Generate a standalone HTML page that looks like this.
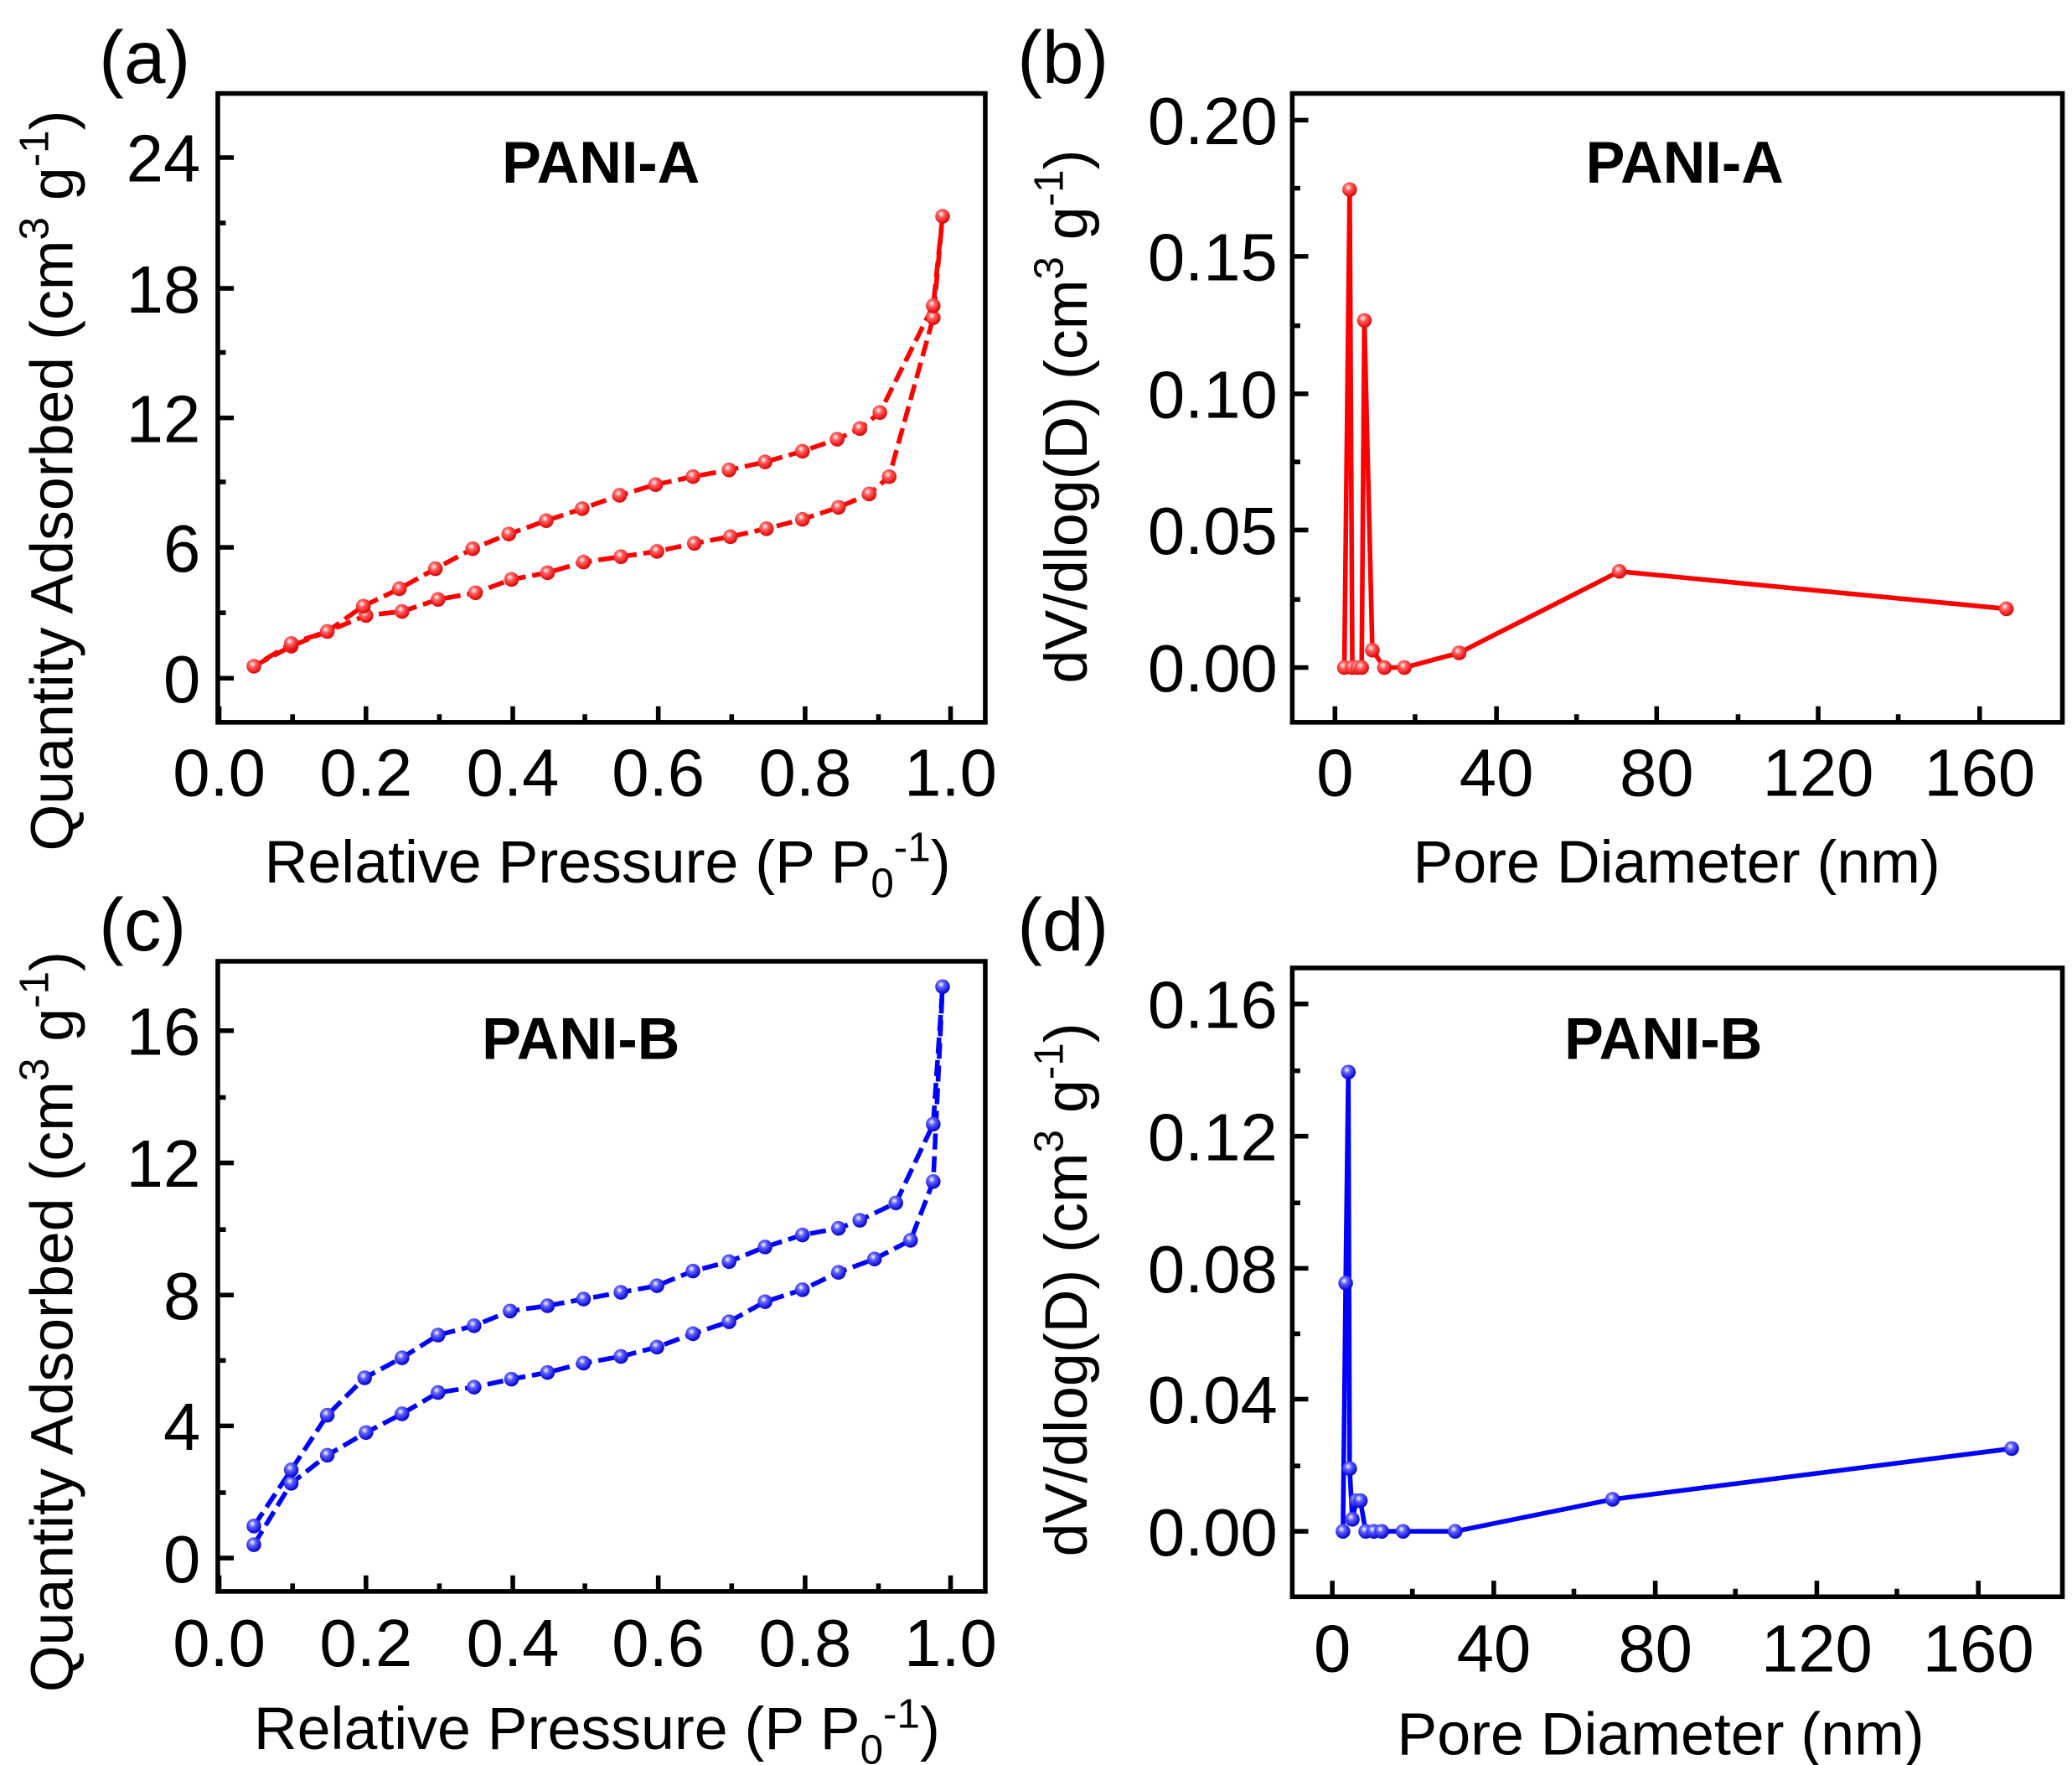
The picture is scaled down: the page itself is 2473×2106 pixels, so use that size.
<!DOCTYPE html>
<html><head><meta charset="utf-8"><style>html,body{margin:0;padding:0;background:#fff}svg{display:block}</style></head>
<body>
<svg xmlns="http://www.w3.org/2000/svg" width="2473" height="2106" viewBox="0 0 1552 1322" font-family="Liberation Sans, Arial, sans-serif">
<defs>
<radialGradient id="rg" cx="0.4" cy="0.35" r="0.65"><stop offset="0" stop-color="#fff"/><stop offset="0.35" stop-color="#ff6060"/><stop offset="1" stop-color="#e00000"/></radialGradient>
<radialGradient id="bg" cx="0.4" cy="0.35" r="0.65"><stop offset="0" stop-color="#fff"/><stop offset="0.35" stop-color="#6060ff"/><stop offset="1" stop-color="#0000d0"/></radialGradient>
</defs>
<rect width="1552" height="1322" fill="#fff"/>
<g stroke="#000" stroke-width="3.5" fill="none">
<rect x="163" y="70" width="575" height="471"/>
<rect x="968" y="70" width="577" height="471"/>
<rect x="163" y="720" width="575" height="472"/>
<rect x="968" y="725" width="577" height="471"/>
<path d="M163 118h12M163 216h12M163 313h12M163 410h12M163 508h12M163 167h6M163 264h6M163 361h6M163 459h6
M164 541v-12M274 541v-12M384 541v-12M493 541v-12M603 541v-12M712 541v-12M219 541v-6M329 541v-6M438 541v-6M548 541v-6M658 541v-6"/>
<path d="M968 90h12M968 192h12M968 295h12M968 397h12M968 500h12M968 141h6M968 244h6M968 346h6M968 449h6
M1000 541v-12M1121 541v-12M1241 541v-12M1362 541v-12M1483 541v-12M1060 541v-6M1181 541v-6M1302 541v-6M1422 541v-6"/>
<path d="M163 772h12M163 871h12M163 970h12M163 1068h12M163 1167h12M163 822h6M163 921h6M163 1019h6M163 1118h6
M164 1192v-12M274 1192v-12M384 1192v-12M493 1192v-12M603 1192v-12M712 1192v-12M219 1192v-6M329 1192v-6M438 1192v-6M548 1192v-6M658 1192v-6"/>
<path d="M968 752h12M968 851h12M968 950h12M968 1048h12M968 1147h12M968 802h6M968 901h6M968 999h6M968 1098h6
M998 1196v-12M1119 1196v-12M1240 1196v-12M1361 1196v-12M1482 1196v-12M1058 1196v-6M1179 1196v-6M1300 1196v-6M1421 1196v-6"/>
</g>
<g font-size="50" text-anchor="end" fill="#000">
<text x="150" y="136">24</text><text x="150" y="234">18</text><text x="150" y="331">12</text><text x="150" y="428">6</text><text x="150" y="526">0</text>
<text x="957" y="108">0.20</text><text x="957" y="210">0.15</text><text x="957" y="313">0.10</text><text x="957" y="415">0.05</text><text x="957" y="518">0.00</text>
<text x="150" y="790">16</text><text x="150" y="889">12</text><text x="150" y="988">8</text><text x="150" y="1086">4</text><text x="150" y="1185">0</text>
<text x="957" y="770">0.16</text><text x="957" y="869">0.12</text><text x="957" y="968">0.08</text><text x="957" y="1066">0.04</text><text x="957" y="1165">0.00</text>
</g>
<g font-size="50" text-anchor="middle" fill="#000">
<text x="164" y="596">0.0</text><text x="274" y="596">0.2</text><text x="384" y="596">0.4</text><text x="493" y="596">0.6</text><text x="603" y="596">0.8</text><text x="712" y="596">1.0</text>
<text x="1000" y="596">0</text><text x="1121" y="596">40</text><text x="1241" y="596">80</text><text x="1362" y="596">120</text><text x="1483" y="596">160</text>
<text x="164" y="1248">0.0</text><text x="274" y="1248">0.2</text><text x="384" y="1248">0.4</text><text x="493" y="1248">0.6</text><text x="603" y="1248">0.8</text><text x="712" y="1248">1.0</text>
<text x="998" y="1252">0</text><text x="1119" y="1252">40</text><text x="1240" y="1252">80</text><text x="1361" y="1252">120</text><text x="1482" y="1252">160</text>
</g>
<g font-size="56" fill="#000">
<text x="74" y="62">(a)</text><text x="762" y="62">(b)</text><text x="74" y="712">(c)</text><text x="762" y="712">(d)</text>
</g>
<g font-size="45" fill="#000" text-anchor="middle">
<text x="455" y="661">Relative Pressure (P P<tspan font-size="31" dy="11">0</tspan><tspan font-size="31" dy="-27">-1</tspan><tspan dy="16">)</tspan></text>
<text x="1256" y="661">Pore Diameter (nm)</text>
<text x="447" y="1310">Relative Pressure (P P<tspan font-size="31" dy="11">0</tspan><tspan font-size="31" dy="-27">-1</tspan><tspan dy="16">)</tspan></text>
<text x="1244" y="1314">Pore Diameter (nm)</text>
<text transform="translate(54,360) rotate(-90)">Quantity Adsorbed (cm<tspan font-size="31" dy="-18">3</tspan><tspan dy="18"> g</tspan><tspan font-size="31" dy="-18">-1</tspan><tspan dy="18">)</tspan></text>
<text transform="translate(54,990) rotate(-90)">Quantity Adsorbed (cm<tspan font-size="31" dy="-18">3</tspan><tspan dy="18"> g</tspan><tspan font-size="31" dy="-18">-1</tspan><tspan dy="18">)</tspan></text>
<text transform="translate(814,312) rotate(-90)">dV/dlog(D)  (cm<tspan font-size="31" dy="-18">3</tspan><tspan dy="18"> g</tspan><tspan font-size="31" dy="-18">-1</tspan><tspan dy="18">)</tspan></text>
<text transform="translate(814,966) rotate(-90)">dV/dlog(D)  (cm<tspan font-size="31" dy="-18">3</tspan><tspan dy="18"> g</tspan><tspan font-size="31" dy="-18">-1</tspan><tspan dy="18">)</tspan></text>
</g>
<g font-size="44" font-weight="bold" text-anchor="middle" fill="#000">
<text x="450" y="137">PANI-A</text><text x="1262" y="137">PANI-A</text>
<text x="435" y="793">PANI-B</text><text x="1246" y="793">PANI-B</text>
</g>
<g fill="none" stroke-width="3.5" stroke-linejoin="round">
<polyline stroke="#f00" stroke-dasharray="12 5" points="190,499 218,484 245,473 274,461 301,458 328,449 356,444 383,434 410,429 437,421 465,417 492,413 520,407 547,402 574,396 601,389 628,380 651,370 666,357 699,238 706,162"/>
<polyline stroke="#f00" stroke-dasharray="12 5" points="706,162 699,229 659,309 644,321 627,329 601,338 573,346 546,352 519,357 491,363 464,371 436,381 409,390 381,400 354,411 326,426 299,441 272,454 245,473 218,482 190,499"/>
<polyline stroke="#f00" points="1007,500 1011,142 1013,500 1017,500 1020,500 1022,240 1028,487 1037,500 1052,500 1093,489 1213,428 1503,456"/>
<polyline stroke="#00f" stroke-dasharray="12 5" points="190,1157 218,1111 245,1090 274,1073 301,1059 328,1043 355,1039 383,1033 410,1028 437,1021 465,1016 492,1009 519,999 546,990 573,975 601,966 628,953 655,943 682,929 699,885 706,739"/>
<polyline stroke="#00f" stroke-dasharray="12 5" points="190,1143 218,1101 245,1060 273,1032 301,1017 328,1000 355,993 382,982 410,978 437,973 465,968 492,963 519,952 546,945 573,934 601,925 628,920 644,914 671,901 699,842 706,739"/>
<polyline stroke="#00f" points="1006,1147 1008,961 1010,803 1011,1100 1013,1138 1016,1124 1019,1124 1023,1147 1029,1147 1035,1147 1051,1147 1090,1147 1208,1123 1507,1085"/>
</g>
<g fill="url(#rg)">
<circle cx="190" cy="499" r="5.5"/><circle cx="218" cy="484" r="5.5"/><circle cx="245" cy="473" r="5.5"/><circle cx="274" cy="461" r="5.5"/><circle cx="301" cy="458" r="5.5"/><circle cx="328" cy="449" r="5.5"/><circle cx="356" cy="444" r="5.5"/><circle cx="383" cy="434" r="5.5"/><circle cx="410" cy="429" r="5.5"/><circle cx="437" cy="421" r="5.5"/><circle cx="465" cy="417" r="5.5"/><circle cx="492" cy="413" r="5.5"/><circle cx="520" cy="407" r="5.5"/><circle cx="547" cy="402" r="5.5"/><circle cx="574" cy="396" r="5.5"/><circle cx="601" cy="389" r="5.5"/><circle cx="628" cy="380" r="5.5"/><circle cx="651" cy="370" r="5.5"/><circle cx="666" cy="357" r="5.5"/><circle cx="699" cy="238" r="5.5"/><circle cx="706" cy="162" r="5.5"/>
<circle cx="699" cy="229" r="5.5"/><circle cx="659" cy="309" r="5.5"/><circle cx="644" cy="321" r="5.5"/><circle cx="627" cy="329" r="5.5"/><circle cx="601" cy="338" r="5.5"/><circle cx="573" cy="346" r="5.5"/><circle cx="546" cy="352" r="5.5"/><circle cx="519" cy="357" r="5.5"/><circle cx="491" cy="363" r="5.5"/><circle cx="464" cy="371" r="5.5"/><circle cx="436" cy="381" r="5.5"/><circle cx="409" cy="390" r="5.5"/><circle cx="381" cy="400" r="5.5"/><circle cx="354" cy="411" r="5.5"/><circle cx="326" cy="426" r="5.5"/><circle cx="299" cy="441" r="5.5"/><circle cx="272" cy="454" r="5.5"/><circle cx="218" cy="482" r="5.5"/>
<circle cx="1007" cy="500" r="5.5"/><circle cx="1011" cy="142" r="5.5"/><circle cx="1013" cy="500" r="5.5"/><circle cx="1017" cy="500" r="5.5"/><circle cx="1020" cy="500" r="5.5"/><circle cx="1022" cy="240" r="5.5"/><circle cx="1028" cy="487" r="5.5"/><circle cx="1037" cy="500" r="5.5"/><circle cx="1052" cy="500" r="5.5"/><circle cx="1093" cy="489" r="5.5"/><circle cx="1213" cy="428" r="5.5"/><circle cx="1503" cy="456" r="5.5"/>
</g>
<g fill="url(#bg)">
<circle cx="190" cy="1157" r="5.5"/><circle cx="218" cy="1111" r="5.5"/><circle cx="245" cy="1090" r="5.5"/><circle cx="274" cy="1073" r="5.5"/><circle cx="301" cy="1059" r="5.5"/><circle cx="328" cy="1043" r="5.5"/><circle cx="355" cy="1039" r="5.5"/><circle cx="383" cy="1033" r="5.5"/><circle cx="410" cy="1028" r="5.5"/><circle cx="437" cy="1021" r="5.5"/><circle cx="465" cy="1016" r="5.5"/><circle cx="492" cy="1009" r="5.5"/><circle cx="519" cy="999" r="5.5"/><circle cx="546" cy="990" r="5.5"/><circle cx="573" cy="975" r="5.5"/><circle cx="601" cy="966" r="5.5"/><circle cx="628" cy="953" r="5.5"/><circle cx="655" cy="943" r="5.5"/><circle cx="682" cy="929" r="5.5"/><circle cx="699" cy="885" r="5.5"/><circle cx="706" cy="739" r="5.5"/>
<circle cx="190" cy="1143" r="5.5"/><circle cx="218" cy="1101" r="5.5"/><circle cx="245" cy="1060" r="5.5"/><circle cx="273" cy="1032" r="5.5"/><circle cx="301" cy="1017" r="5.5"/><circle cx="328" cy="1000" r="5.5"/><circle cx="355" cy="993" r="5.5"/><circle cx="382" cy="982" r="5.5"/><circle cx="410" cy="978" r="5.5"/><circle cx="437" cy="973" r="5.5"/><circle cx="465" cy="968" r="5.5"/><circle cx="492" cy="963" r="5.5"/><circle cx="519" cy="952" r="5.5"/><circle cx="546" cy="945" r="5.5"/><circle cx="573" cy="934" r="5.5"/><circle cx="601" cy="925" r="5.5"/><circle cx="628" cy="920" r="5.5"/><circle cx="644" cy="914" r="5.5"/><circle cx="671" cy="901" r="5.5"/><circle cx="699" cy="842" r="5.5"/>
<circle cx="1006" cy="1147" r="5.5"/><circle cx="1008" cy="961" r="5.5"/><circle cx="1010" cy="803" r="5.5"/><circle cx="1011" cy="1100" r="5.5"/><circle cx="1013" cy="1138" r="5.5"/><circle cx="1016" cy="1124" r="5.5"/><circle cx="1019" cy="1124" r="5.5"/><circle cx="1023" cy="1147" r="5.5"/><circle cx="1029" cy="1147" r="5.5"/><circle cx="1035" cy="1147" r="5.5"/><circle cx="1051" cy="1147" r="5.5"/><circle cx="1090" cy="1147" r="5.5"/><circle cx="1208" cy="1123" r="5.5"/><circle cx="1507" cy="1085" r="5.5"/>
</g>
</svg>
</body></html>
